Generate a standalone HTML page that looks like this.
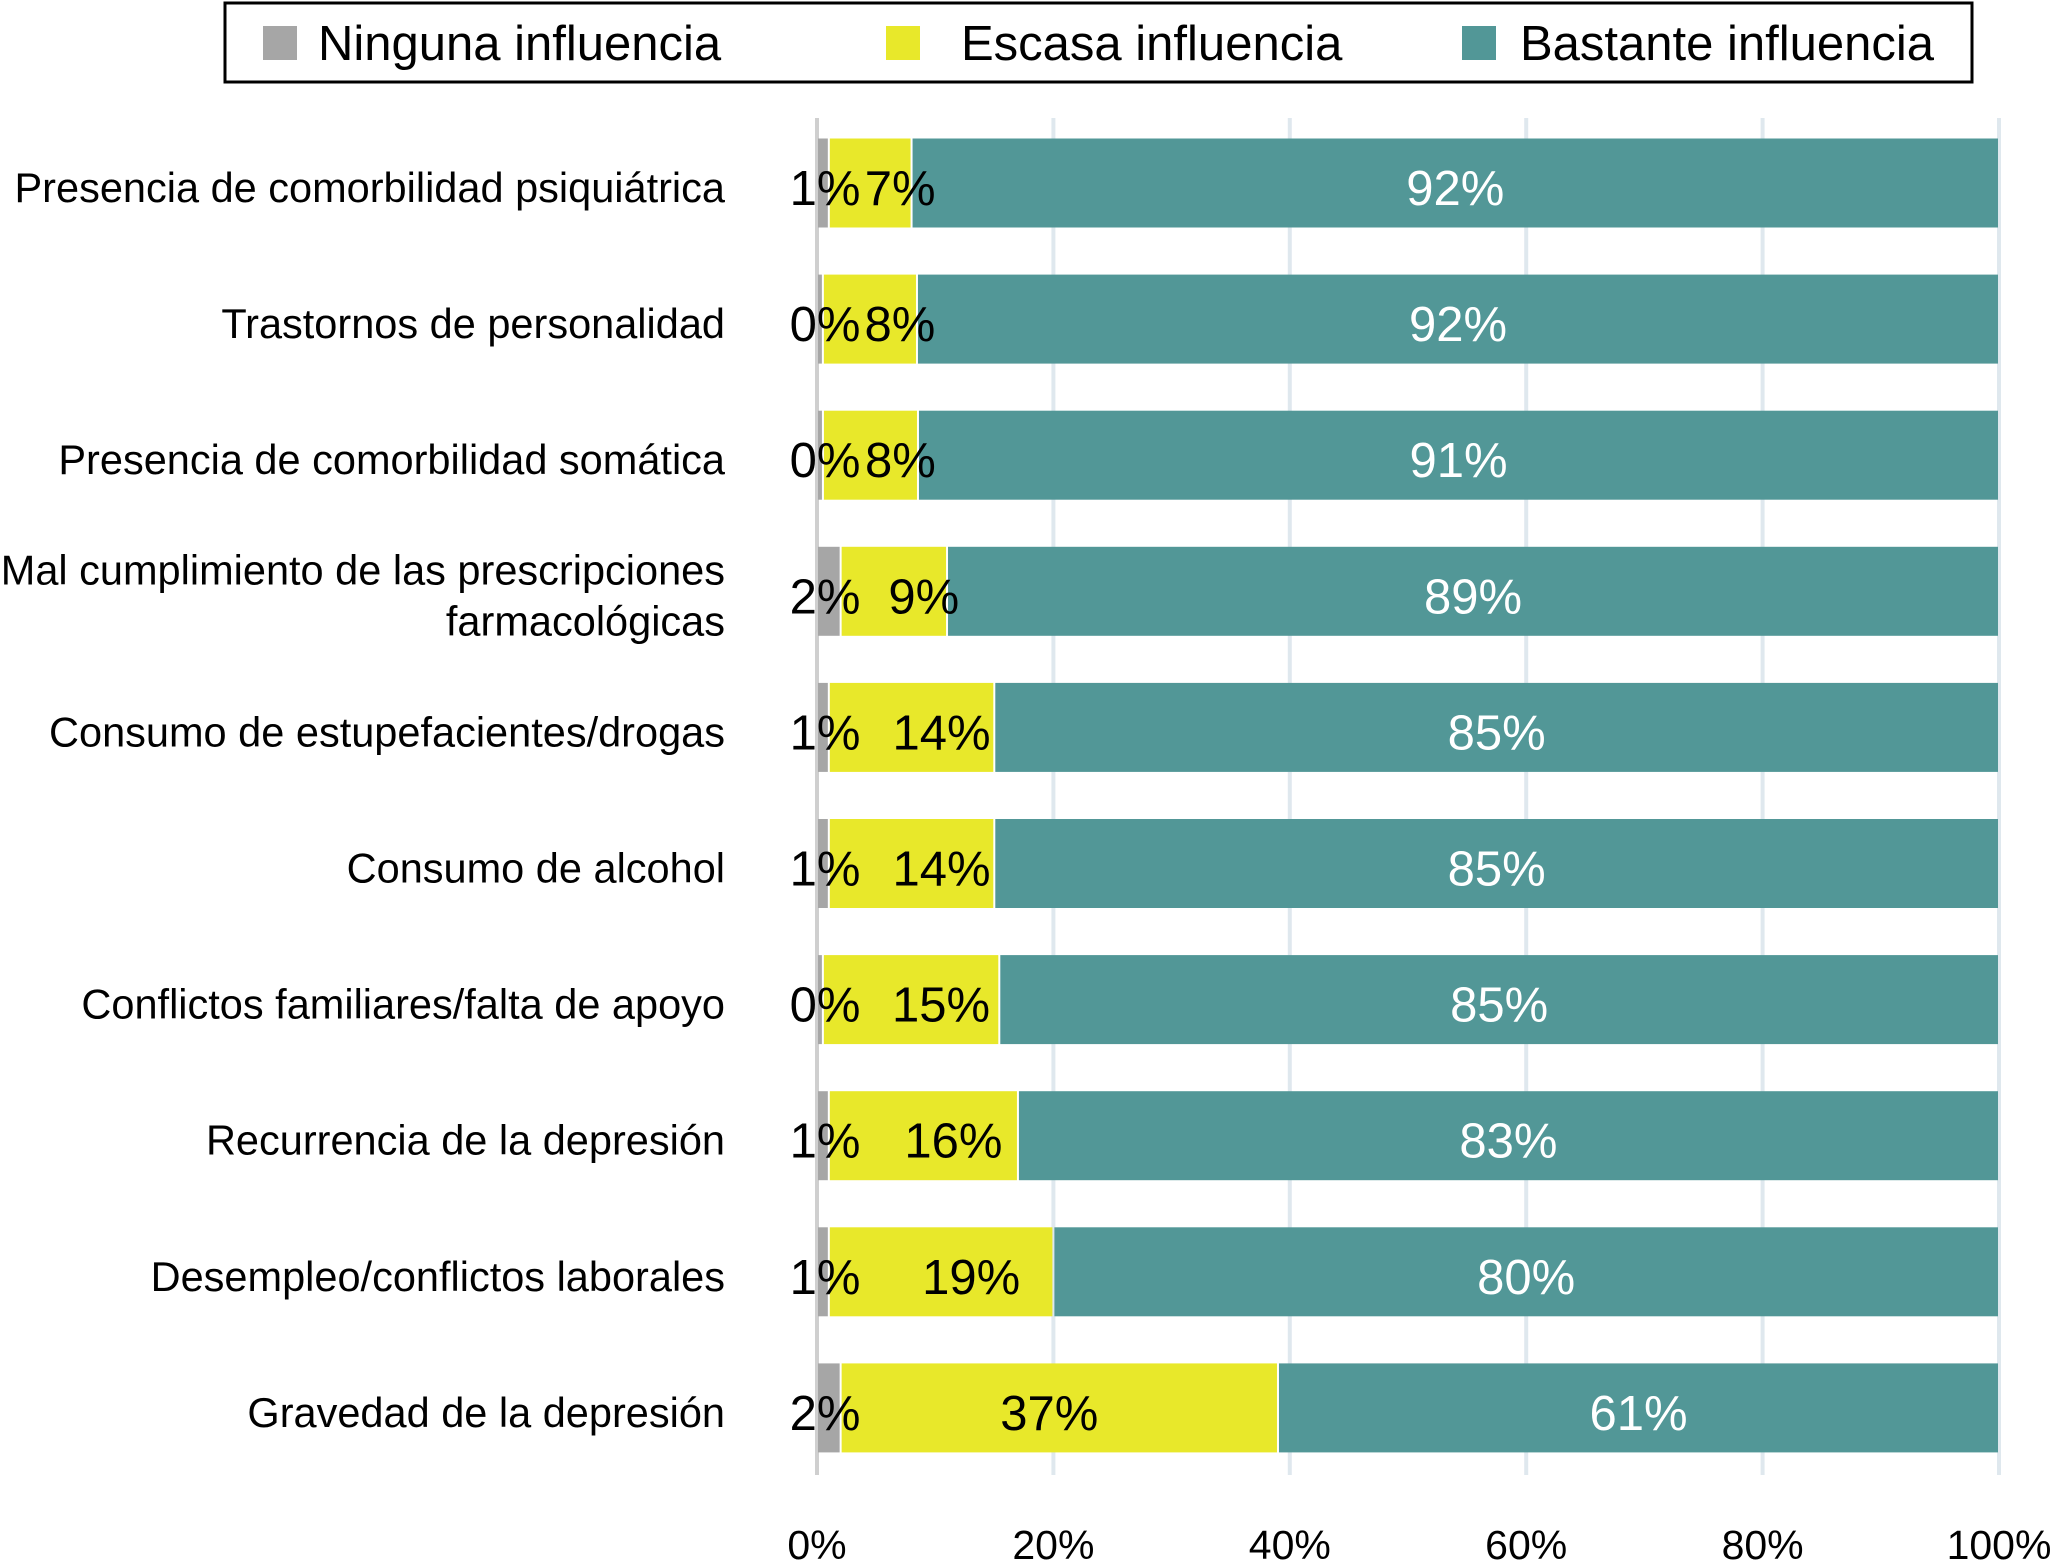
<!DOCTYPE html>
<html><head><meta charset="utf-8"><style>
html,body{margin:0;padding:0;background:#fff}
svg{display:block;font-family:"Liberation Sans",Arial,sans-serif}
</style></head><body>
<svg id="chart" width="2055" height="1567" viewBox="0 0 2055 1567" xmlns="http://www.w3.org/2000/svg">
<g id="legend">
<rect x="225" y="3" width="1747" height="79" fill="#fff" stroke="#000" stroke-width="3"/>
<rect x="263" y="26" width="34" height="34" fill="#a6a6a6"/>
<text x="318" y="60" font-size="49">Ninguna influencia</text>
<rect x="886" y="26" width="34" height="34" fill="#e8e82a"/>
<text x="961" y="60" font-size="49">Escasa influencia</text>
<rect x="1462" y="26" width="34" height="34" fill="#529797"/>
<text x="1520" y="60" font-size="49">Bastante influencia</text>
</g>
<g id="grid"></g><g id="bars"></g><g id="labels"></g><g id="ticks"></g>
</svg>
<script>
const categories = ["Presencia de comorbilidad psiquiátrica","Trastornos de personalidad","Presencia de comorbilidad somática","Mal cumplimiento de las prescripciones|farmacológicas","Consumo de estupefacientes/drogas","Consumo de alcohol","Conflictos familiares/falta de apoyo","Recurrencia de la depresión","Desempleo/conflictos laborales","Gravedad de la depresión"];
const ninguna = [1,0,0,2,1,1,0,1,1,2];
const escasa = [7,8,8,9,14,14,15,16,19,37];
const bastante = [92,92,91,89,85,85,85,83,80,61];
const tickValues = [0,20,40,60,80,100];
const tickLabels = ["0%","20%","40%","60%","80%","100%"];

const NS="http://www.w3.org/2000/svg";
const x0=817,x1=1999,yTop=183,pitch=136.1,barH=89;
const xs=v=>x0+(x1-x0)*v/100;
const yc=i=>yTop+i*pitch;
function mk(tag,attrs,parent){const e=document.createElementNS(NS,tag);for(const k in attrs)e.setAttribute(k,attrs[k]);document.getElementById(parent).appendChild(e);return e;}

tickValues.forEach((t,i)=>{
  const g=mk('line',{x1:xs(t),x2:xs(t),y1:118,y2:1475,stroke:i===0?'#cfcfcf':'#dfe8ee','stroke-width':4},'grid');
  
  
  const tx=mk('text',{x:xs(t),y:1559,'font-size':41,'text-anchor':'middle'},'ticks');
  tx.textContent=tickLabels[i];
  
  
});

categories.forEach((c,i)=>{
  const y=yc(i);
  const tot=ninguna[i]+escasa[i]+bastante[i]+(ninguna[i]===0?0.5:0);
  const sc=v=>v/tot*100;
  const n=sc(Math.max(ninguna[i],0.5));
  const segs=[[0,n,'#a6a6a6','bar-ninguna'],[n,n+sc(escasa[i]),'#e8e82a','bar-escasa'],[n+sc(escasa[i]),n+sc(escasa[i])+sc(bastante[i]),'#529797','bar-bastante']];
  segs.forEach(s=>{
    const r=mk('rect',{x:xs(s[0])+1,y:y-barH/2,width:Math.max(xs(s[1])-xs(s[0])-2,2),height:barH,fill:s[2]},'bars');
    
    
  });
  const lab=[[x0+8,ninguna[i],'#000','value-label-ninguna'],[(xs(segs[1][0])+xs(segs[1][1]))/2+(escasa[i]<30?30:-10),escasa[i],'#000','value-label-escasa'],[(xs(segs[2][0])+xs(segs[2][1]))/2,bastante[i],'#fff','value-label-bastante']];
  lab.forEach(l=>{
    const t=mk('text',{x:l[0],y:y+22,'font-size':49,'text-anchor':'middle',fill:l[2]},'labels');
    t.textContent=l[1]+'%';
    
    
  });
  const parts=c.split('|');
  parts.forEach((p,k)=>{
    const t=mk('text',{x:725,y:y+19+(parts.length>1?(k===0?-26:25):0),'font-size':41.5,'text-anchor':'end'},'labels');
    t.textContent=p;
    
    
  });
});
</script>
</body></html>
